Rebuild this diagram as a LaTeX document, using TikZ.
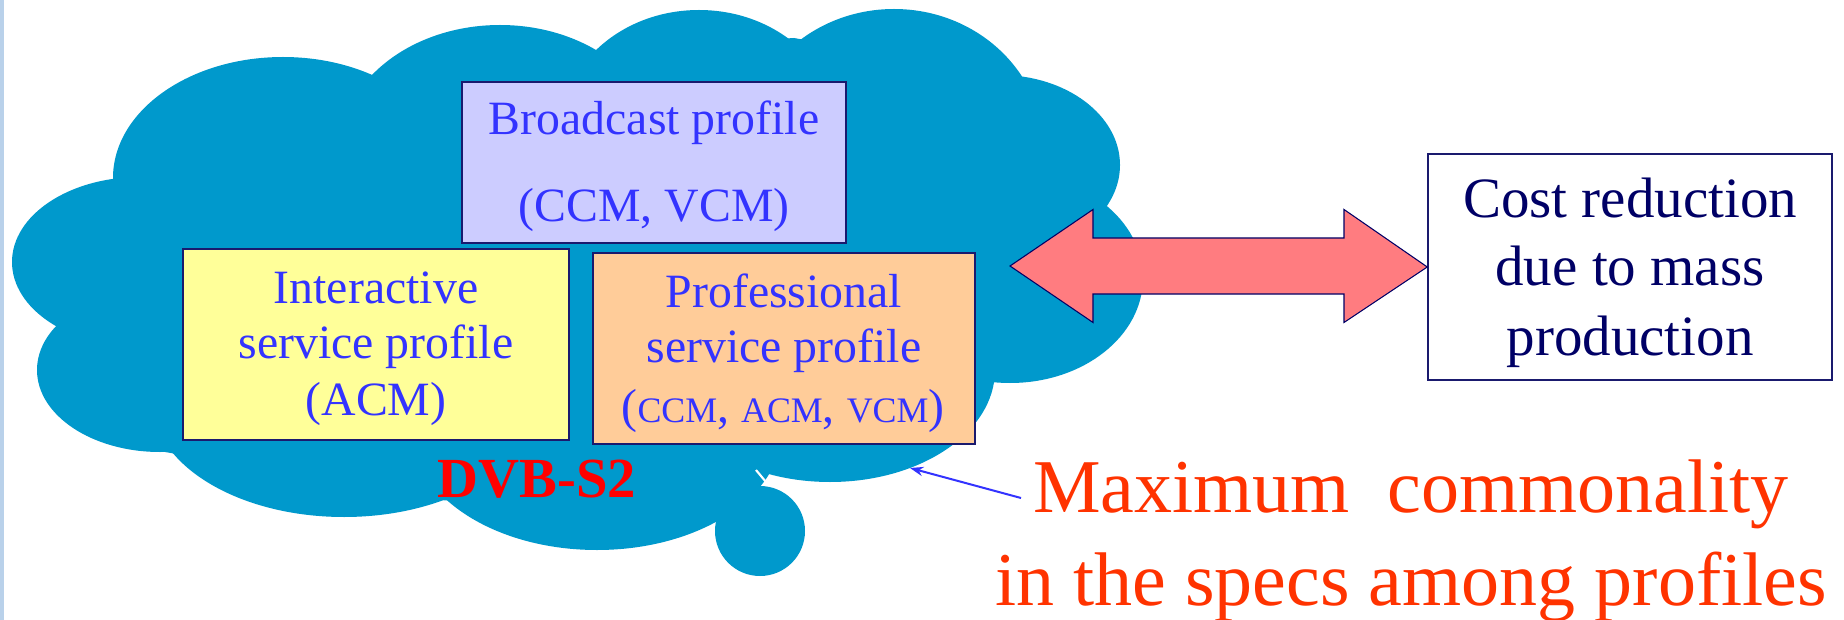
\documentclass[tikz,border=0pt]{standalone}
\usepackage{fontspec}
\setmainfont{Liberation Serif}
\usetikzlibrary{arrows.meta}
\definecolor{cloudblue}{HTML}{0099CC}
\definecolor{leftbar}{HTML}{B9D1EA}
\definecolor{bcfill}{HTML}{CCCCFF}
\definecolor{ifill}{HTML}{FFFF99}
\definecolor{pfill}{HTML}{FFCC99}
\definecolor{arrfill}{HTML}{FF7C80}
\definecolor{textblue}{HTML}{3333FF}
\definecolor{navy}{HTML}{000066}
\definecolor{boxline}{HTML}{1A1A6E}
\definecolor{orangered}{HTML}{FF3300}
\definecolor{dvbred}{HTML}{FF0000}
\newcommand\fakesc[1]{{\fontsize{26.9pt}{30pt}\selectfont #1}}
\begin{document}
\begin{tikzpicture}[x=0.75pt,y=-0.75pt,
  profbox/.style={draw=boxline, line width=1.3pt, inner sep=0pt, outer sep=0pt},
  btxt/.style={text=textblue, inner sep=0pt, anchor=base, font=\fontsize{35.85pt}{40pt}\selectfont},
  costtxt/.style={text=navy, inner sep=0pt, anchor=base, font=\fontsize{42.75pt}{48pt}\selectfont},
  bigtxt/.style={text=orangered, inner sep=0pt, anchor=base, font=\fontsize{57pt}{64pt}\selectfont},
  cloudfill/.style={fill=cloudblue}
]
\useasboundingbox (0,0) rectangle (1844,620);
\fill[white] (0,0) rectangle (1844,620);
\fill[leftbar] (0,0) rectangle (4,620);

% ---- cloud ----
\fill[cloudfill] (115,190) -- (381,72) -- (602,50) -- (794,38) -- (1016,78) -- (1109,202)
  -- (990,387) -- (760,472) -- (715,518) -- (440,500) -- (165,452) -- (67,328) -- cycle;
\fill[cloudfill] (283,178) ellipse [x radius=127.5pt, y radius=90.75pt];
\fill[cloudfill] (500,150) ellipse [x radius=120pt, y radius=93.75pt];
\fill[cloudfill] (699,130) ellipse [x radius=103.5pt, y radius=90pt];
\fill[cloudfill] (894,150) ellipse [x radius=112.5pt, y radius=105.75pt];
\fill[cloudfill] (1000,165) ellipse [x radius=90pt, y radius=67.5pt];
\fill[cloudfill] (1010,278) ellipse [x radius=99.75pt, y radius=78.75pt];
\fill[cloudfill] (830,370) ellipse [x radius=123.75pt, y radius=84pt];
\fill[cloudfill] (597,430) ellipse [x radius=138.75pt, y radius=90pt];
\fill[cloudfill] (344,400) ellipse [x radius=144pt, y radius=87.75pt];
\fill[cloudfill] (160,370) ellipse [x radius=92.25pt, y radius=61.5pt];
\fill[cloudfill] (140,262) ellipse [x radius=96pt, y radius=63.75pt];
\fill[cloudfill] (760,531) circle [radius=33.75pt];
\draw[white, line width=1.6pt] (756,470) -- (766,482);

% ---- profile boxes ----
\node[profbox, fill=bcfill, minimum width=288pt, minimum height=120.75pt] (bc) at (654,162.5) {};
\node[profbox, fill=ifill, minimum width=289.5pt, minimum height=143.25pt] (ia) at (376,344.5) {};
\node[profbox, fill=pfill, minimum width=286.5pt, minimum height=143.25pt] (pr) at (784,348.5) {};

\node[btxt] (bc1) at (654,135) {Broadcast profile};
\node[btxt] (bc2) at (654,222) {(CCM, VCM)};
\node[btxt] (ia1) at (376,303) {Interactive};
\node[btxt] (ia2) at (376,358) {service profile};
\node[btxt] (ia3) at (376,415) {(ACM)};
\node[btxt] (pr1) at (784,307) {Professional};
\node[btxt] (pr2) at (784,362) {service profile};
\node[btxt] (pr3) at (783,422) {(\fakesc{CCM}, \fakesc{ACM}, \fakesc{VCM})};

\node[inner sep=0pt, anchor=base, text=dvbred, font=\fontsize{42.5pt}{48pt}\selectfont\bfseries] (dvb) at (537,497) {DVB-S2};

% ---- cost box ----
\node[draw=boxline, line width=1.1pt, fill=white, minimum width=303pt, minimum height=169.5pt, inner sep=0pt] (cost) at (1630,267) {};
\node[costtxt] (c1) at (1630,218) {Cost reduction};
\node[costtxt] (c2) at (1630,286) {due to mass};
\node[costtxt] (c3) at (1630,355) {production};

% ---- double arrow ----
\coordinate (dl) at (1010,266);
\filldraw[fill=arrfill, draw=navy, line width=0.8pt]
  (dl) -- (1093,209.5) -- (1093,238) -- (1344,238) -- (1344,209.5) -- (cost.west)
  -- (1344,322.5) -- (1344,294) -- (1093,294) -- (1093,322.5) -- cycle;

% ---- commonality label ----
\node[bigtxt] (m1) at (1411,512) {Maximum\ \ commonality};
\node[bigtxt] (m2) at (1411,605) {in the specs among profiles};
\coordinate (mstart) at (1021,498);
\coordinate (ctip) at (910,468);
\draw[textblue, line width=1.5pt, -{Stealth[length=10pt,width=7pt]}] (mstart) -- (ctip);
\end{tikzpicture}
\end{document}
